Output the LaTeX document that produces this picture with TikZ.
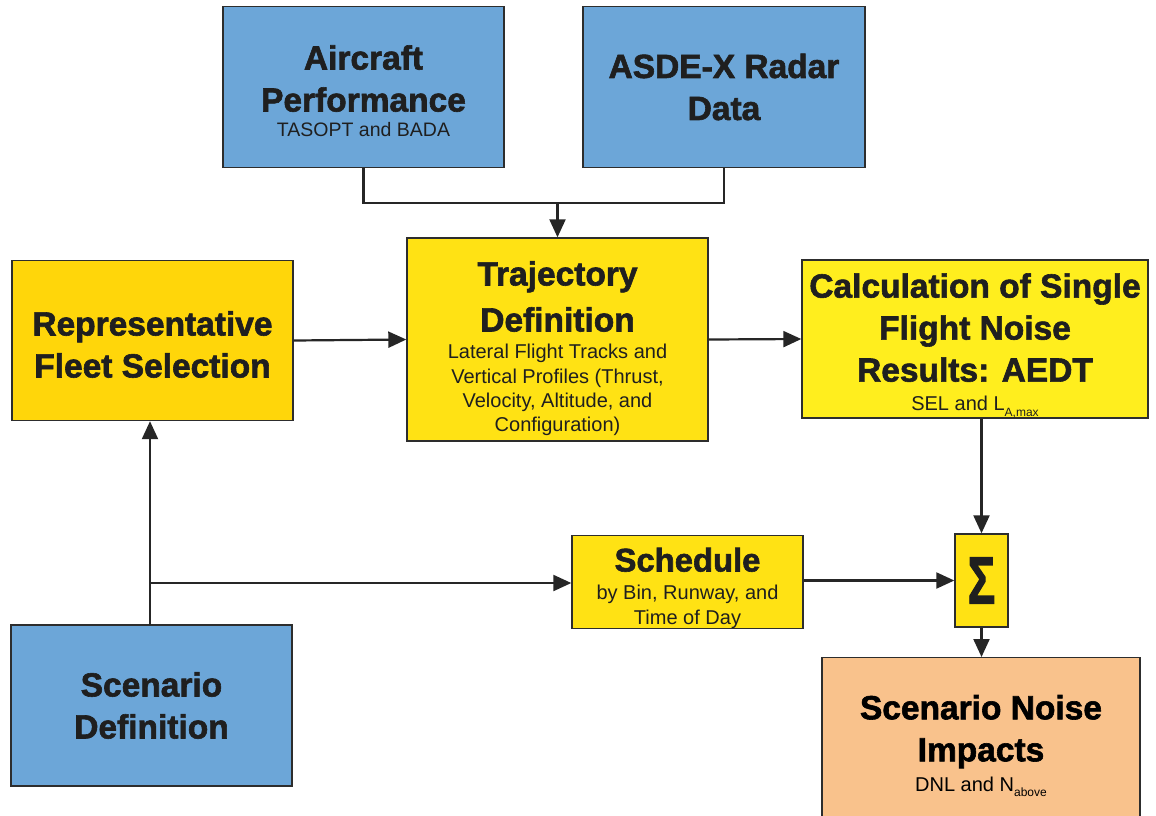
\documentclass[tikz,border=0pt]{standalone}
\usepackage{fontspec}
\setmainfont{Liberation Sans}[BoldFeatures={FakeBold=1.8}]
\usetikzlibrary{arrows.meta}

\definecolor{boxblue}{RGB}{108,166,216}
\definecolor{boxyellow}{RGB}{255,226,20}
\definecolor{boxgold}{RGB}{255,214,10}
\definecolor{boxlemon}{RGB}{255,238,30}
\definecolor{boxorange}{RGB}{249,194,140}
\definecolor{edge}{RGB}{45,45,45}

\newcommand{\ttl}{\fontsize{33.5}{42}\selectfont\bfseries}
\newcommand{\sub}{\fontsize{20}{24.3}\selectfont\mdseries}
\newcommand{\tinysub}[1]{\raisebox{-0.5ex}{\fontsize{12}{12}\selectfont #1}}

\tikzset{
  block/.style={draw=edge, line width=1.4pt, align=center, inner sep=0pt, text=black!88},
  conn/.style={line width=2.2pt, draw=black!85},
  arr/.style={conn, -{Triangle[length=18pt,width=16pt]}},
}

\begin{document}
\begin{tikzpicture}[x=1pt,y=-1pt]
\useasboundingbox (0,0) rectangle (1156,815);
\fill[white] (0,0) rectangle (1156,815);

% input data boxes
\node[block, fill=boxblue, minimum width=281pt, minimum height=161pt] (air) at (363.5,87)
  {\parbox{270pt}{\centering\vspace*{8pt}\ttl Aircraft\\Performance\par{\fontsize{19.5}{25}\selectfont\mdseries TASOPT and BADA\par}}};
\node[block, fill=boxblue, minimum width=282pt, minimum height=161pt] (asde) at (724,87)
  {\parbox{270pt}{\centering\ttl ASDE-X Radar\\Data\par}};

% processing chain
\node[block, fill=boxgold, minimum width=281pt, minimum height=160pt] (fleet) at (152.5,340.5)
  {\parbox{270pt}{\centering\vspace*{8pt}\ttl Representative\\Fleet Selection\par}};
\node[block, fill=boxyellow, minimum width=301pt, minimum height=203pt] (traj) at (557.5,339.5)
  {\parbox{290pt}{\centering\vspace*{18pt}\fontsize{33.5}{46}\selectfont\bfseries Trajectory\\Definition\par\vspace{3pt}\sub Lateral Flight Tracks and\\Vertical Profiles (Thrust,\\Velocity, Altitude, and\\Configuration)\par}};
\node[block, fill=boxlemon, minimum width=346pt, minimum height=158pt] (calc) at (975,339)
  {\parbox{340pt}{\centering\vspace*{13pt}\ttl Calculation of Single\\Flight Noise\\Results: AEDT\par\vspace{5pt}\sub SEL and L\tinysub{A,max}\par}};

% schedule and summation
\node[block, fill=boxyellow, minimum width=231pt, minimum height=90pt] (sched) at (687.5,582)
  {\parbox{225pt}{\centering\vspace*{12pt}\fontsize{32.8}{34}\selectfont\bfseries Schedule\par\vspace{4pt}\sub by Bin, Runway, and\\Time of Day\par}};
\node[block, fill=boxyellow, minimum width=53pt, minimum height=93pt] (sigma) at (981.5,580.5)
  {\scalebox{1}[1.45]{\fontsize{46}{46}\selectfont\bfseries Σ}};

% scenario boxes
\node[block, fill=boxblue, minimum width=281pt, minimum height=161pt] (scen) at (151.5,705.5)
  {\parbox{270pt}{\centering\ttl Scenario\\Definition\par}};
\node[block, fill=boxorange, minimum width=318pt, minimum height=166pt, anchor=north] (impact) at (981,657)
  {};
\node[align=center, inner sep=0pt] (impacttxt) at (981,746)
  {\parbox{310pt}{\centering\ttl Scenario Noise\\Impacts\par\vspace{6pt}\sub DNL and N\tinysub{above}\par}};

% data inputs merge into the trajectory definition
\coordinate (jl) at (air.center |- 0,203);
\coordinate (jr) at (asde.center |- 0,203);
\coordinate (jm) at (traj.center |- 0,203);
\draw[conn] (air.south) -- (jl) -- (jr) -- (asde.south);
\draw[arr] (jm) -- (traj.north);

\draw[arr] (fleet.east) -- (traj.west);
\draw[arr] (traj.east) -- (calc.west);
\draw[arr] (sigma.north |- calc.south) -- (sigma.north);
\draw[arr] (sched.east |- sigma.west) -- (sigma.west);
\draw[arr] (sigma.south) -- (sigma.south |- impact.north);

% scenario definition feeds the fleet selection and the schedule
\coordinate (scentop) at (150,625);
\coordinate (branch) at (150,583);
\draw[arr] (scentop) -- (scentop |- fleet.south);
\draw[arr] (branch) -- (branch -| sched.west);
\end{tikzpicture}
\end{document}
